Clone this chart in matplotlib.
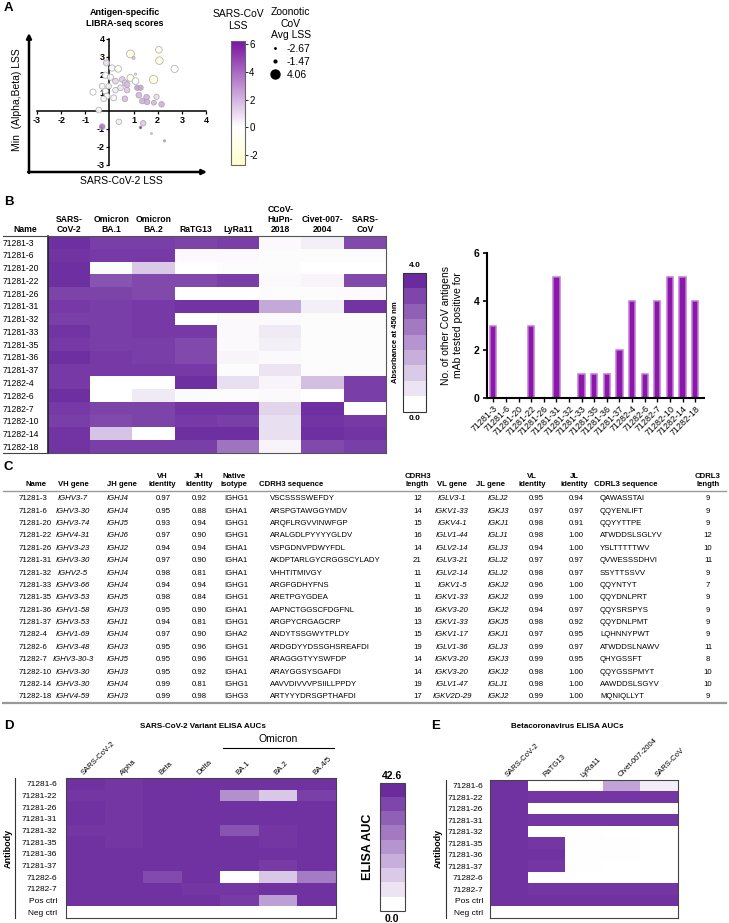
import numpy as np
import matplotlib
matplotlib.use("Agg")
import matplotlib.pyplot as plt
from matplotlib.cm import ScalarMappable
from matplotlib.colors import LinearSegmentedColormap, Normalize
from matplotlib.lines import Line2D
from matplotlib.transforms import ScaledTranslation, blended_transform_factory

W, H = 729, 923

plt.rcParams['font.family'] = ['Liberation Sans', 'DejaVu Sans']
plt.rcParams['axes.unicode_minus'] = False

# ---------------- data ----------------
# Panel A: LIBRA-seq scores
lss_sars2 = [0.87, 1.00, 2.05, 2.07, 2.70, -0.12, 0.11, 0.36, -0.17, 0.04, 0.87, 1.08, 1.08, 1.83,
             0.25, 0.53, 0.66, 0.73, -0.30, -0.03, 0.46, 0.25, 0.73, 1.15, 1.29, -0.68, -0.17, -0.10,
             -0.24, 0.18, 0.64, 1.22, 1.54, 1.95, 1.36, 1.56, 1.84, 2.16, -0.44, -0.30, 0.39, 1.29,
             1.40, 1.74, 2.28]
lss_min_ab = [3.17, 2.95, 3.40, 2.80, 2.34, 2.67, 2.39, 2.34, 1.99, 1.88, 1.84, 2.05, 1.66, 1.75,
              1.66, 1.75, 1.56, 1.47, 1.38, 1.38, 1.29, 1.16, 1.16, 1.29, 1.29, 1.05, 1.10, 0.83,
              0.68, 0.73, 0.68, 0.88, 0.77, 0.79, 0.55, 0.50, 0.46, 0.37, 0.05, -0.87, -0.60, -0.92,
              -0.68, -1.25, -1.66]
lss_sars1 = [-1.8, 1.5, -1.5, -1.8, 0.0, 1.0, 0.2, -0.8, 0.1, 0.2, -1.2, 0.5, 0.1, -1.6,
             1.2, 1.5, 1.4, 1.8, 0.3, 0.2, 0.8, 0.5, 1.5, 2.5, 2.5, 0.0, 0.0, 0.1,
             0.2, 0.3, 1.8, 2.0, 2.0, 1.0, 2.2, 2.2, 2.0, 2.2, 0.0, 3.5, 0.5, 6.0,
             1.5, 1.5, 2.5]
lss_zoonotic = [3.0, -1.2, 2.0, 2.8, 2.5, 1.6, 1.6, 2.0, 1.6, 1.6, 2.2, -2.0, 2.0, 3.5,
                1.2, 1.2, 1.4, 1.2, 1.4, 1.0, 1.2, 1.0, 1.2, 0.8, 0.8, 1.6, 1.4, 1.4,
                1.0, 1.4, 1.2, 1.2, 1.2, 0.8, 1.0, 1.0, 0.4, 1.0, 1.2, 1.2, 1.0, -1.47,
                1.0, -2.2, -1.8]
size_legend_values = [-2.67, -1.47, 4.06]

# Panel B: ELISA absorbance and count of positive antigens
b_antibodies = ['71281-3', '71281-6', '71281-20', '71281-22', '71281-26', '71281-31', '71281-32',
                '71281-33', '71281-35', '71281-36', '71281-37', '71282-4', '71282-6', '71282-7',
                '71282-10', '71282-14', '71282-18']
b_antigens = ['SARS-\nCoV-2', 'Omicron\nBA.1', 'Omicron\nBA.2', 'RaTG13', 'LyRa11',
              'CCoV-\nHuPn-\n2018', 'Civet-007-\n2004', 'SARS-\nCoV']
b_absorbance = np.array([
    [3.9, 3.6, 3.6, 3.5, 3.6, 0.10, 0.30, 3.4],
    [3.8, 3.7, 3.7, 0.1, 0.1, 0.05, 0.05, 0.05],
    [3.9, 0.05, 1.0, 0.0, 0.05, 0.05, 0.0, 0.0],
    [3.9, 3.2, 3.4, 3.4, 3.6, 0.10, 0.20, 3.4],
    [3.5, 3.5, 3.4, 0.0, 0.0, 0.05, 0.05, 0.05],
    [3.7, 3.6, 3.7, 3.8, 3.8, 1.60, 0.30, 3.8],
    [3.6, 3.6, 3.7, 0.0, 0.1, 0.10, 0.05, 0.05],
    [3.8, 3.6, 3.7, 3.7, 0.1, 0.40, 0.05, 0.05],
    [3.7, 3.6, 3.6, 3.4, 0.1, 0.30, 0.05, 0.05],
    [3.9, 3.7, 3.6, 3.4, 0.2, 0.10, 0.05, 0.05],
    [3.7, 3.7, 3.7, 3.7, 0.05, 0.50, 0.05, 0.05],
    [3.7, 0.0, 0.0, 3.9, 0.6, 0.20, 1.20, 3.6],
    [3.9, 0.0, 0.4, 0.05, 0.05, 0.10, 0.0, 3.6],
    [3.7, 3.5, 3.5, 3.8, 3.8, 0.80, 3.9, 0.0],
    [3.6, 3.4, 3.5, 3.7, 3.6, 0.60, 3.8, 3.7],
    [3.8, 1.1, 0.0, 3.9, 3.9, 0.60, 3.9, 3.8],
    [3.8, 3.6, 3.6, 3.6, 2.6, 0.20, 3.4, 3.6],
])
b_positive_counts = [3, 0, 0, 3, 0, 5, 0, 1, 1, 1, 2, 4, 1, 4, 5, 5, 4]

# Panel C: sequence table
c_name = b_antibodies
c_vh_gene = ['IGHV3-7', 'IGHV3-30', 'IGHV3-74', 'IGHV4-31', 'IGHV3-23', 'IGHV3-30', 'IGHV2-5',
             'IGHV3-66', 'IGHV3-53', 'IGHV1-58', 'IGHV3-53', 'IGHV1-69', 'IGHV3-48', 'IGHV3-30-3',
             'IGHV3-30', 'IGHV3-30', 'IGHV4-59']
c_jh_gene = ['IGHJ4', 'IGHJ4', 'IGHJ5', 'IGHJ6', 'IGHJ2', 'IGHJ4', 'IGHJ4', 'IGHJ4', 'IGHJ5',
             'IGHJ3', 'IGHJ1', 'IGHJ4', 'IGHJ3', 'IGHJ5', 'IGHJ3', 'IGHJ4', 'IGHJ3']
c_vh_identity = ['0.97', '0.95', '0.93', '0.97', '0.94', '0.97', '0.98', '0.94', '0.98', '0.95',
                 '0.94', '0.97', '0.95', '0.95', '0.95', '0.99', '0.99']
c_jh_identity = ['0.92', '0.88', '0.94', '0.90', '0.94', '0.90', '0.81', '0.94', '0.84', '0.90',
                 '0.81', '0.90', '0.96', '0.96', '0.92', '0.81', '0.98']
c_isotype = ['IGHG1', 'IGHA1', 'IGHG1', 'IGHG1', 'IGHA1', 'IGHA1', 'IGHA1', 'IGHG1', 'IGHG1',
             'IGHA1', 'IGHG1', 'IGHA2', 'IGHG1', 'IGHG1', 'IGHA1', 'IGHG1', 'IGHG3']
c_cdrh3 = ['VSCSSSSWEFDY', 'ARSPGTAWGGYMDV', 'ARQFLRGVVINWFGP', 'ARALGDLPYYYYGLDV',
           'VSPGDNVPDWYFDL', 'AKDPTARLGYCRGGSCYLADY', 'VHHTITMIVGY', 'ARGFGDHYFNS',
           'ARETPGYGDEA', 'AAPNCTGGSCFDGFNL', 'ARGPYCRGAGCRP', 'ANDYTSSGWYTPLDY',
           'ARDGDYYDSSGHSREAFDI', 'ARAGGGTYYSWFDP', 'ARAYGGSYSGAFDI', 'AAVVDIVVVPSIILLPPDY',
           'ARTYYYDRSGPTHAFDI']
c_cdrh3_len = ['12', '14', '15', '16', '14', '21', '11', '11', '11', '16', '13', '15', '19', '14',
               '14', '19', '17']
c_vl_gene = ['IGLV3-1', 'IGKV1-33', 'IGKV4-1', 'IGLV1-44', 'IGLV2-14', 'IGLV3-21', 'IGLV2-14',
             'IGKV1-5', 'IGKV1-33', 'IGKV3-20', 'IGKV1-33', 'IGKV1-17', 'IGLV1-36', 'IGKV3-20',
             'IGKV3-20', 'IGLV1-47', 'IGKV2D-29']
c_jl_gene = ['IGLJ2', 'IGKJ3', 'IGKJ1', 'IGLJ1', 'IGLJ3', 'IGLJ2', 'IGLJ2', 'IGKJ2', 'IGKJ2',
             'IGKJ2', 'IGKJ5', 'IGKJ1', 'IGLJ3', 'IGKJ3', 'IGKJ2', 'IGLJ1', 'IGKJ2']
c_vl_identity = ['0.95', '0.97', '0.98', '0.98', '0.94', '0.97', '0.98', '0.96', '0.99', '0.94',
                 '0.98', '0.97', '0.99', '0.99', '0.98', '0.98', '0.99']
c_jl_identity = ['0.94', '0.97', '0.91', '1.00', '1.00', '0.97', '0.97', '1.00', '1.00', '0.97',
                 '0.92', '0.95', '0.97', '0.95', '1.00', '1.00', '1.00']
c_cdrl3 = ['QAWASSTAI', 'QQYENLIFT', 'QQYYTTPE', 'ATWDDSLSGLYV', 'YSLTTTTTWV', 'QVWESSSDHVI',
           'SSYTTSSVV', 'QQYNTYT', 'QQYDNLPRT', 'QQYSRSPYS', 'QQYDNLPMT', 'LQHNNYPWT',
           'ATWDDSLNAWV', 'QHYGSSFT', 'QQYGSSPMYT', 'AAWDDSLSGYV', 'MQNIQLLYT']
c_cdrl3_len = ['9', '9', '9', '12', '10', '11', '9', '7', '9', '9', '9', '9', '11', '8', '10',
               '10', '9']

# Panel D: SARS-CoV-2 variant ELISA AUCs
de_antibodies = ['71281-6', '71281-22', '71281-26', '71281-31', '71281-32', '71281-35',
                 '71281-36', '71281-37', '71282-6', '71282-7', 'Pos ctrl', 'Neg ctrl']
d_variants = ['SARS-CoV-2', 'Alpha', 'Beta', 'Delta', 'BA.1', 'BA.2', 'BA.4/5']
d_auc = np.array([
    [41, 40, 41, 41, 41, 41, 41],
    [40, 40, 41, 41, 22, 11, 38],
    [41, 40, 41, 41, 41, 41, 41],
    [41, 40, 41, 41, 41, 41, 41],
    [40, 40, 41, 41, 34, 40, 41],
    [41, 40, 41, 41, 41, 40, 41],
    [41, 41, 41, 41, 41, 41, 41],
    [41, 41, 41, 41, 41, 39, 41],
    [41, 41, 36, 41, 0, 11, 26],
    [41, 41, 41, 40, 40, 41, 41],
    [41, 41, 41, 41, 39, 19, 41],
    [0, 0, 0, 0, 0, 0, 0],
])
auc_max = 42.6

# Panel E: betacoronavirus ELISA AUCs
e_antigens = ['SARS-CoV-2', 'RaTG13', 'LyRa11', 'Civet-007-2004', 'SARS-CoV']
e_auc = np.array([
    [41, 0, 0.3, 18, 3.5],
    [41, 40, 40, 40, 40],
    [41, 0, 0, 0, 0],
    [41, 40, 40, 40, 40],
    [41, 0, 0.3, 0, 0],
    [41, 40, 0.3, 0.3, 0],
    [41, 41, 0.3, 0.3, 0],
    [41, 40, 0.3, 0, 0],
    [41, 0, 0, 0, 0],
    [41, 40, 40, 40, 40],
    [41, 41, 41, 41, 41],
    [0, 0, 0, 0, 0],
])

# ---------------- layout helpers ----------------
fig = plt.figure(figsize=(W / 100, H / 100), dpi=100)


def box(x0, y0, x1, y1):
    # axes placed by pixel box (top-left origin)
    return fig.add_axes([x0 / W, 1 - y1 / H, (x1 - x0) / W, (y1 - y0) / H])


# transparent overlay in pixel coordinates for texts and rules
ov = fig.add_axes([0, 0, 1, 1], zorder=10)
ov.set_xlim(0, W)
ov.set_ylim(H, 0)
ov.axis('off')

heat_cmap = LinearSegmentedColormap.from_list('heat', ['#FFFFFF', '#6B2A9E'])

for letter, (lx, ly) in zip('ABCDE', [(4, 8), (4, 202), (4, 467), (4, 726), (431, 726)]):
    ov.text(lx, ly, letter, fontsize=9.5, fontweight='bold', ha='left', va='center')

# ---------------- Panel A ----------------
lss_cmap = LinearSegmentedColormap.from_list(
    'lss', [(0.0, '#FFFFCC'), (2.7 / 8.9, '#FFFFFF'), (1.0, '#7A14A0')])
lss_norm = Normalize(-2.7, 6.2)


def dot_size(v):
    # marker diameter (points) from zoonotic average LSS
    d_px = 1.4 + (np.asarray(v) + 2.67) / 6.73 * 7.6
    return d_px * 0.72


axA = box(37, 39, 206, 165)
axA.patch.set_alpha(0)
sc = axA.scatter(lss_sars2, lss_min_ab, s=dot_size(lss_zoonotic) ** 2, c=lss_sars1,
                 cmap=lss_cmap, norm=lss_norm, edgecolors='#A0A0A0', linewidths=0.5,
                 alpha=0.9, zorder=3)
axA.set_xlim(-3, 4)
axA.set_ylim(-3, 4)
axA.spines['left'].set_position(('data', 0))
axA.spines['bottom'].set_position(('data', 0))
axA.spines['right'].set_visible(False)
axA.spines['top'].set_visible(False)
for sp in ('left', 'bottom'):
    axA.spines[sp].set_linewidth(1.1)
axA.set_xticks([-3, -2, -1, 1, 2, 3, 4])
axA.set_yticks([-3, -2, -1, 1, 2, 3, 4])
axA.tick_params(length=2.5, width=0.9, labelsize=6.5, pad=1)
for lab in axA.get_xticklabels() + axA.get_yticklabels():
    lab.set_fontweight('bold')

ov.text(125, 18, 'Antigen-specific\nLIBRA-seq scores', ha='center', va='center',
        fontsize=6.5, fontweight='bold')
arrow_kw = dict(arrowstyle='-|>', lw=1.8, color='black', mutation_scale=7, shrinkA=0, shrinkB=0)
ov.annotate('', xy=(29, 33), xytext=(29, 173), arrowprops=arrow_kw)
ov.annotate('', xy=(207, 172), xytext=(28.1, 172), arrowprops=arrow_kw)
ov.text(121, 181, 'SARS-CoV-2 LSS', ha='center', va='center', fontsize=7.5)
ov.text(17, 100, 'Min  (Alpha,Beta) LSS', ha='center', va='center', fontsize=7.5, rotation=90)

caxA = box(231, 41, 245, 165)
cbA = fig.colorbar(sc, cax=caxA, ticks=[-2, 0, 2, 4, 6])
cbA.solids.set_alpha(1)
cbA.ax.tick_params(labelsize=7, length=2, width=0.6, pad=1)
cbA.outline.set_edgecolor('#666666')
cbA.outline.set_linewidth(0.8)
ov.text(238, 20, 'SARS-CoV\nLSS', ha='center', va='center', fontsize=7.5)

size_handles = [Line2D([], [], marker='o', ls='', color='black', markersize=float(dot_size(v)))
                for v in size_legend_values]
legA = fig.legend(size_handles, [f'{v:.2f}' for v in size_legend_values], loc='upper left',
                  bbox_to_anchor=(263 / W, 1 - 0 / H), frameon=False, fontsize=7.5,
                  title='Zoonotic\nCoV\nAvg LSS', title_fontsize=7.5, handletextpad=0.6,
                  labelspacing=0.3, handlelength=1.0, borderpad=0.2)
legA.get_title().set_multialignment('center')
legA._legend_box.align = 'right'

# ---------------- Panel B heatmap ----------------
axB = box(48, 235.7, 386, 452.7)
axB.imshow(b_absorbance, cmap=heat_cmap, vmin=0, vmax=4, aspect='auto', interpolation='nearest')
axB.xaxis.tick_top()
axB.set_xticks(range(len(b_antigens)))
axB.set_xticklabels(b_antigens, fontsize=6.2, fontweight='bold', linespacing=1.1)
axB.set_yticks(range(len(b_antibodies)))
axB.set_yticklabels(b_antibodies, fontsize=6.2, ha='left')
axB.tick_params(axis='x', length=0, pad=1.5)
axB.tick_params(axis='y', length=0, pad=(48 - 3) * 0.72)
for sp in axB.spines.values():
    sp.set_edgecolor('#555555')
    sp.set_linewidth(0.8)
axB.spines['left'].set_edgecolor('#222222')
axB.spines['left'].set_linewidth(1.2)
ov.text(25, 234, 'Name', ha='center', va='bottom', fontsize=6.2, fontweight='bold')
ov.plot([3, 48], [235.7, 235.7], color='#444444', lw=0.8)
ov.plot([3, 48], [452.7, 452.7], color='#444444', lw=0.8)

caxB = box(403, 273, 426, 411.7)
cbB = fig.colorbar(ScalarMappable(norm=Normalize(0, 4), cmap=heat_cmap.resampled(9)), cax=caxB)
cbB.set_ticks([])
cbB.outline.set_edgecolor('#333333')
cbB.outline.set_linewidth(0.8)
ov.text(414.5, 269, '4.0', ha='center', va='bottom', fontsize=6, fontweight='bold')
ov.text(414.5, 415, '0.0', ha='center', va='top', fontsize=6, fontweight='bold')
ov.text(396, 342, 'Absorbance at 450 nm', ha='center', va='center', rotation=90,
        fontsize=5.5, fontweight='bold')

# ---------------- Panel B bar chart ----------------
axBar = box(486.7, 253.3, 704, 397.7)
axBar.bar(range(len(b_antibodies)), b_positive_counts, width=0.5, color='#8B17A8',
          edgecolor='#C17AD8', linewidth=1.1)
axBar.set_xlim(-0.52, 16.7)
axBar.set_ylim(0, 6)
axBar.set_yticks([0, 2, 4, 6])
axBar.set_xticks(range(len(b_antibodies)))
axBar.set_xticklabels(b_antibodies, rotation=45, ha='right', rotation_mode='anchor', fontsize=6.4)
axBar.tick_params(axis='y', labelsize=7.5, width=1.2, length=3, pad=2)
axBar.tick_params(axis='x', width=1.0, length=3, pad=1.5)
for lab in axBar.get_yticklabels():
    lab.set_fontweight('bold')
axBar.spines['right'].set_visible(False)
axBar.spines['top'].set_visible(False)
axBar.spines['left'].set_linewidth(1.5)
axBar.spines['bottom'].set_linewidth(1.5)
axBar.set_ylabel('No. of other CoV antigens\nmAb tested positive for', fontsize=7.5, labelpad=8)

# ---------------- Panel C table ----------------
fs = 5.6
columns = [
    ('Name', 36, c_name, 19, 'left', 'normal'),
    ('VH gene', 73, c_vh_gene, 73, 'center', 'italic'),
    ('JH gene', 122, c_jh_gene, 118, 'center', 'italic'),
    ('VH\nidentity', 162, c_vh_identity, 163.5, 'center', 'normal'),
    ('JH\nidentity', 199, c_jh_identity, 199, 'center', 'normal'),
    ('Native\nisotype', 234, c_isotype, 236, 'center', 'normal'),
    ('CDRH3 sequence', 291, c_cdrh3, 270, 'left', 'normal'),
    ('CDRH3\nlength', 417.5, c_cdrh3_len, 417.5, 'center', 'normal'),
    ('VL gene', 452, c_vl_gene, 452, 'center', 'italic'),
    ('JL gene', 491, c_jl_gene, 498, 'center', 'italic'),
    ('VL\nidentity', 532, c_vl_identity, 536, 'center', 'normal'),
    ('JL\nidentity', 574, c_jl_identity, 576, 'center', 'normal'),
    ('CDRL3 sequence', 626, c_cdrl3, 600, 'left', 'normal'),
    ('CDRL3\nlength', 708, c_cdrl3_len, 708, 'center', 'normal'),
]
row0, row_step = 497.7, 12.38
for header, hx, values, vx, ha, style in columns:
    ov.text(hx, 488.5, header, ha='center', va='bottom', fontsize=fs, fontweight='bold',
            linespacing=1.35)
    for i, v in enumerate(values):
        ov.text(vx, row0 + i * row_step + 2.6, v, ha=ha, va='baseline', fontsize=fs, style=style)
ov.plot([3, 726], [490.5, 490.5], color='#999999', lw=1.0)
ov.plot([3, 726], [703, 703], color='#999999', lw=1.6)

# ---------------- Panels D and E ----------------
axD = box(66, 778, 336, 918)
axD.imshow(d_auc, cmap=heat_cmap, vmin=0, vmax=auc_max, aspect='auto', interpolation='nearest')
axE = box(490, 780, 678, 918)
axE.imshow(e_auc, cmap=heat_cmap, vmin=0, vmax=auc_max, aspect='auto', interpolation='nearest')

for ax, cols, label_x in ((axD, d_variants, 57), (axE, e_antigens, 483)):
    ax.xaxis.tick_top()
    ax.set_xticks(range(len(cols)))
    ax.set_xticklabels(cols, rotation=45, ha='left', va='bottom', rotation_mode='anchor',
                       fontsize=5.5)
    for lab in ax.get_xticklabels():
        lab.set_transform(lab.get_transform() + ScaledTranslation(-0.07, 0, fig.dpi_scale_trans))
    ax.set_yticks(range(len(de_antibodies)))
    ax.set_yticklabels(de_antibodies, fontsize=6)
    bb = ax.get_position()
    ax.tick_params(axis='x', length=0, pad=1)
    ax.tick_params(axis='y', length=0, pad=(bb.x0 * W - label_x) * 0.72)
    for sp in ax.spines.values():
        sp.set_edgecolor('#444444')
        sp.set_linewidth(0.8)

# omicron bracket over BA.1 .. BA.4/5
brk = blended_transform_factory(axD.transData, axD.transAxes)
axD.plot([3.57, 6.45], [1.215, 1.215], color='black', lw=0.8, transform=brk, clip_on=False)
axD.text(5.0, 1.24, 'Omicron', transform=brk, ha='center', va='bottom', fontsize=7.5)

ov.text(202.5, 726, 'SARS-CoV-2 Variant ELISA AUCs', ha='center', va='center', fontsize=5.8,
        fontweight='bold')
ov.text(567, 726, 'Betacoronavirus ELISA AUCs', ha='center', va='center', fontsize=5.8,
        fontweight='bold')
ov.plot([15, 15], [778, 918], color='#333333', lw=0.8)
ov.plot([446, 446], [780, 918], color='#333333', lw=0.8)
ov.text(8.5, 848, 'Antibody', rotation=90, ha='center', va='center', fontsize=6.5,
        fontweight='bold')
ov.text(438, 848, 'Antibody', rotation=90, ha='center', va='center', fontsize=6.5,
        fontweight='bold')

caxD = box(379.6, 782.7, 404.6, 911)
cbD = fig.colorbar(ScalarMappable(norm=Normalize(0, auc_max), cmap=heat_cmap.resampled(9)),
                   cax=caxD)
cbD.set_ticks([])
cbD.outline.set_edgecolor('#444444')
cbD.outline.set_linewidth(0.8)
ov.text(392, 781, f'{auc_max:.1f}', ha='center', va='bottom', fontsize=7.5, fontweight='bold')
ov.text(392, 914, '0.0', ha='center', va='top', fontsize=7.5, fontweight='bold')
ov.text(368, 847, 'ELISA AUC', ha='center', va='center', rotation=90, fontsize=9,
        fontweight='bold')

fig.savefig('out.png', dpi=100)
